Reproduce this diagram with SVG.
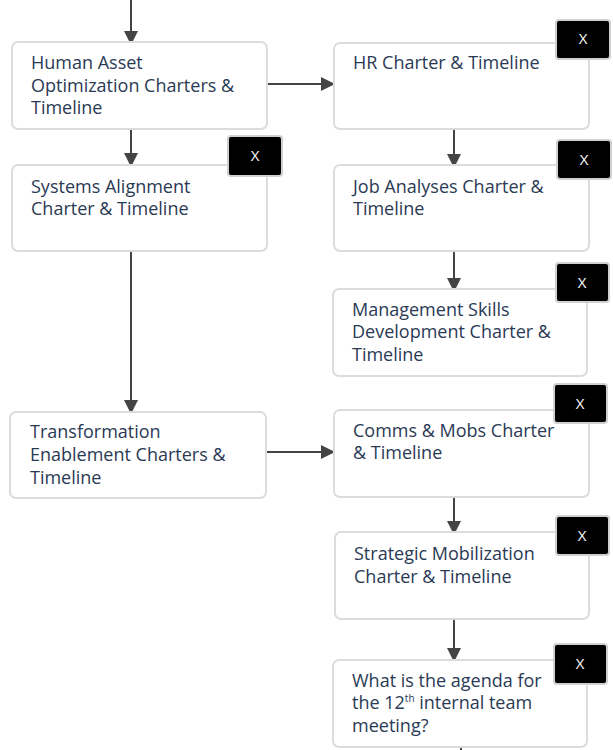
<svg xmlns="http://www.w3.org/2000/svg" width="613" height="750" viewBox="0 0 613 750">
  <style>
    .box { fill: #ffffff; stroke: #dcdcdc; stroke-width: 2; }
    .label { font-family: "Open Sans", Lato, "Liberation Sans", sans-serif; font-size: 18px; fill: #2a3a55; }
    .sup { font-size: 10px; }
    .close { fill: #000000; stroke: #d0d0d0; stroke-width: 2; }
    .close-x { font-family: "Open Sans", "Liberation Sans", sans-serif; font-size: 15px; fill: #ffffff; text-anchor: middle; }
    .link { stroke: #444444; stroke-width: 2; fill: none; }
  </style>
  <defs>
    <marker id="arrow" viewBox="0 0 14 14" refX="13" refY="7" markerWidth="14" markerHeight="14" markerUnits="userSpaceOnUse" orient="auto">
      <path d="M0,0 L14,7 L0,14 Z" fill="#444444"/>
    </marker>
  </defs>
  <rect width="613" height="750" fill="#ffffff"/>

  <g id="connectors">
    <line class="link" x1="131" y1="0" x2="131" y2="44" marker-end="url(#arrow)"/>
    <line class="link" x1="131" y1="129" x2="131" y2="166" marker-end="url(#arrow)"/>
    <line class="link" x1="131" y1="252" x2="131" y2="413" marker-end="url(#arrow)"/>
    <line class="link" x1="267" y1="84" x2="334" y2="84" marker-end="url(#arrow)"/>
    <line class="link" x1="267" y1="452" x2="334" y2="452" marker-end="url(#arrow)"/>
    <line class="link" x1="454" y1="130" x2="454" y2="167" marker-end="url(#arrow)"/>
    <line class="link" x1="454" y1="252" x2="454" y2="291" marker-end="url(#arrow)"/>
    <line class="link" x1="454" y1="498" x2="454" y2="534" marker-end="url(#arrow)"/>
    <line class="link" x1="454" y1="620" x2="454" y2="661" marker-end="url(#arrow)"/>
    <line class="link" x1="461" y1="747" x2="461" y2="750"/>
  </g>

  <g id="human-asset">
    <rect class="box" x="12" y="42" width="255" height="87" rx="6"/>
    <text class="label" x="31" y="69">Human Asset</text>
    <text class="label" x="31" y="92">Optimization Charters &amp;</text>
    <text class="label" x="31" y="114">Timeline</text>
  </g>

  <g id="systems-alignment">
    <rect class="box" x="12" y="165" width="255" height="86" rx="6"/>
    <text class="label" x="31" y="193">Systems Alignment</text>
    <text class="label" x="31" y="215">Charter &amp; Timeline</text>
    <rect class="close" x="228" y="136" width="54" height="40" rx="3"/>
    <text class="close-x" x="255" y="161">X</text>
  </g>

  <g id="transformation">
    <rect class="box" x="10" y="412" width="256" height="86" rx="6"/>
    <text class="label" x="30" y="438">Transformation</text>
    <text class="label" x="30" y="461">Enablement Charters &amp;</text>
    <text class="label" x="30" y="484">Timeline</text>
  </g>

  <g id="hr">
    <rect class="box" x="334" y="43" width="255" height="86" rx="6"/>
    <text class="label" x="353" y="69">HR Charter &amp; Timeline</text>
    <rect class="close" x="556" y="20" width="54" height="39" rx="3"/>
    <text class="close-x" x="583" y="44">X</text>
  </g>

  <g id="job-analyses">
    <rect class="box" x="334" y="165" width="255" height="86" rx="6"/>
    <text class="label" x="353" y="193">Job Analyses Charter &amp;</text>
    <text class="label" x="353" y="215">Timeline</text>
    <rect class="close" x="557" y="140" width="54" height="39" rx="3"/>
    <text class="close-x" x="584" y="165">X</text>
  </g>

  <g id="management-skills">
    <rect class="box" x="333" y="289" width="254" height="87" rx="6"/>
    <text class="label" x="352" y="316">Management Skills</text>
    <text class="label" x="352" y="338">Development Charter &amp;</text>
    <text class="label" x="352" y="361">Timeline</text>
    <rect class="close" x="556" y="263" width="53" height="39" rx="3"/>
    <text class="close-x" x="582" y="288">X</text>
  </g>

  <g id="comms-mobs">
    <rect class="box" x="334" y="410" width="255" height="87" rx="6"/>
    <text class="label" x="353" y="437">Comms &amp; Mobs Charter</text>
    <text class="label" x="353" y="459">&amp; Timeline</text>
    <rect class="close" x="554" y="384" width="53" height="39" rx="3"/>
    <text class="close-x" x="580" y="409">X</text>
  </g>

  <g id="strategic-mobilization">
    <rect class="box" x="335" y="532" width="254" height="87" rx="6"/>
    <text class="label" x="354" y="560">Strategic Mobilization</text>
    <text class="label" x="354" y="583">Charter &amp; Timeline</text>
    <rect class="close" x="556" y="516" width="53" height="39" rx="3"/>
    <text class="close-x" x="582" y="541">X</text>
  </g>

  <g id="agenda">
    <rect class="box" x="333" y="660" width="254" height="87" rx="6"/>
    <text class="label" x="352" y="687">What is the agenda for</text>
    <text class="label" x="352" y="709">the 12<tspan class="sup" dy="-7">th</tspan><tspan dy="7"> internal team</tspan></text>
    <text class="label" x="352" y="732">meeting?</text>
    <rect class="close" x="554" y="644" width="53" height="40" rx="3"/>
    <text class="close-x" x="580" y="669">X</text>
  </g>
</svg>
